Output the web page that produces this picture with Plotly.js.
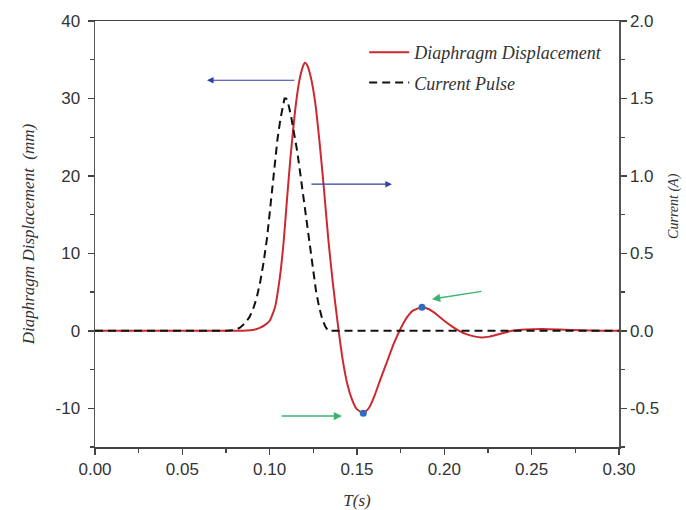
<!DOCTYPE html>
<html>
<head>
<meta charset="utf-8">
<script src="https://cdn.plot.ly/plotly-3.0.1.min.js"></script>
<style>html,body{margin:0;padding:0;background:#fff;}#chart{width:686px;height:510px;}</style>
</head>
<body>
<div id="chart"></div>
<script>
// Diaphragm displacement (mm) vs time (s)
var dispT = [0, 0.02, 0.04, 0.06, 0.075, 0.085, 0.090, 0.094, 0.097, 0.100, 0.103, 0.106, 0.108, 0.110, 0.112, 0.1145, 0.117, 0.119, 0.1202, 0.1215, 0.1235, 0.126, 0.1285, 0.131, 0.1335, 0.136, 0.1395, 0.142, 0.1445, 0.147, 0.1495, 0.1536, 0.157, 0.160, 0.1635, 0.1675, 0.171, 0.175, 0.1785, 0.182, 0.1872, 0.1915, 0.196, 0.2005, 0.2045, 0.2085, 0.2125, 0.217, 0.2214, 0.226, 0.231, 0.2355, 0.2385, 0.2465, 0.2565, 0.266, 0.278, 0.290, 0.300];
var dispY = [0, 0, 0, 0, 0, 0.02, 0.1, 0.35, 0.7, 1.3, 3.0, 7.2, 11.5, 17.2, 22.6, 28.3, 32.3, 34.1, 34.6, 34.3, 32.8, 29.6, 24.5, 18.5, 12.0, 6.5, 0.0, -4.0, -6.9, -8.8, -10.0, -10.65, -9.9, -8.4, -6.2, -3.8, -1.7, 0.3, 1.7, 2.6, 3.05, 2.75, 2.05, 1.2, 0.55, 0.0, -0.42, -0.72, -0.85, -0.75, -0.45, -0.18, 0.0, 0.18, 0.24, 0.17, 0.06, 0.0, 0.0];

// Current pulse (A) vs time (s)
var curT = [0, 0.04, 0.075, 0.080, 0.083, 0.086, 0.0885, 0.0905, 0.0925, 0.0945, 0.0965, 0.0985, 0.1005, 0.1025, 0.1045, 0.1062, 0.1075, 0.1085, 0.1095, 0.1110, 0.1125, 0.1142, 0.1159, 0.1177, 0.1195, 0.1213, 0.1231, 0.1248, 0.1265, 0.1282, 0.1300, 0.1318, 0.1335, 0.16, 0.20, 0.25, 0.300];
var curY = [0, 0, 0, 0.005, 0.02, 0.05, 0.09, 0.14, 0.21, 0.31, 0.44, 0.60, 0.82, 1.05, 1.24, 1.37, 1.45, 1.50, 1.50, 1.45, 1.37, 1.26, 1.15, 1.00, 0.85, 0.68, 0.52, 0.38, 0.26, 0.16, 0.08, 0.03, 0.0, 0, 0, 0, 0];

// Marked extrema of displacement
var markT = [0.1536, 0.1872];
var markY = [-10.65, 3.05];

// Tick labels
var yTickVals = [-10, 0, 10, 20, 30, 40];
var yTickText = ['-10', '0', '10', '20', '30', '40'];
var y2TickVals = [-0.5, 0, 0.5, 1.0, 1.5, 2.0];
var y2TickText = ['-0.5', '0.0', '0.5', '1.0', '1.5', '2.0'];

var seriesNames = ['Diaphragm Displacement', 'Current Pulse'];
var axisTitles = {x: 'T(s)', y: 'Diaphragm Displacement  (mm)', y2: 'Current (A)'};

var traces = [
  {x: dispT, y: dispY, type: 'scatter', mode: 'lines', name: '<i>' + seriesNames[0] + '</i>', legendgroup: 'a',
   line: {color: '#cc2a30', width: 2, shape: 'spline', smoothing: 0.5}, yaxis: 'y'},
  {x: curT, y: curY, type: 'scatter', mode: 'lines', name: '<i>' + seriesNames[1] + '</i>', legendgroup: 'b',
   line: {color: '#111111', width: 2, dash: '8px,5px', shape: 'linear'}, yaxis: 'y2'},
  {x: markT, y: markY, type: 'scatter', mode: 'markers', showlegend: false,
   marker: {color: '#2f6cc0', size: 7}, yaxis: 'y'}
];

var tickFont = {family: 'Liberation Sans, Arial, sans-serif', size: 17, color: '#333'};
var titleFont = {family: 'Liberation Serif, Times New Roman, serif', size: 17, color: '#333'};

var layout = {
  width: 686, height: 510,
  margin: {l: 95, r: 67, t: 21, b: 63},
  paper_bgcolor: '#fff', plot_bgcolor: '#fff',
  showlegend: true,
  legend: {x: 0.5137, y: 0.9695, xanchor: 'left', yanchor: 'top', bgcolor: 'rgba(0,0,0,0)',
           font: {family: 'Liberation Serif, Times New Roman, serif', size: 18, color: '#333'},
           traceorder: 'grouped', tracegroupgap: 4, itemwidth: 40},
  xaxis: {range: [0, 0.3], dtick: 0.05, tick0: 0, tickformat: '.2f', showgrid: false, zeroline: false,
          showline: true, linecolor: '#444', linewidth: 1.5, mirror: true,
          ticks: 'outside', ticklen: 6, tickwidth: 1.5, tickcolor: '#444',
          minor: {dtick: 0.025, ticks: 'outside', ticklen: 4, tickwidth: 1.2, tickcolor: '#444', showgrid: false},
          tickfont: tickFont,
          title: {text: '<i>' + axisTitles.x + '</i>', font: titleFont, standoff: 18}},
  yaxis: {range: [-15, 40], tickmode: 'array', tickvals: yTickVals, ticktext: yTickText,
          showgrid: false, zeroline: false,
          showline: true, linecolor: '#555', linewidth: 1.5,
          ticks: 'outside', ticklen: 6, tickwidth: 1.5, tickcolor: '#444', ticklabelstandoff: 4,
          minor: {dtick: 5, ticks: 'outside', ticklen: 4, tickwidth: 1.2, tickcolor: '#444', showgrid: false},
          tickfont: tickFont,
          title: {text: '<i>' + axisTitles.y + '</i>', font: titleFont, standoff: 16}},
  yaxis2: {range: [-0.75, 2.0], tickmode: 'array', tickvals: y2TickVals, ticktext: y2TickText,
           overlaying: 'y', side: 'right',
           showgrid: false, zeroline: false, showline: true, linecolor: '#555', linewidth: 1.5,
           ticks: 'outside', ticklen: 6, tickwidth: 1.5, tickcolor: '#444',
           minor: {dtick: 0.25, tick0: 0, ticks: 'outside', ticklen: 4, tickwidth: 1.2, tickcolor: '#444', showgrid: false},
           tickfont: tickFont},
  annotations: [
    {text: '<i>' + axisTitles.y2 + '</i>', xref: 'paper', yref: 'paper', x: 1.105, y: 0.566,
     xanchor: 'center', yanchor: 'middle', textangle: -90, showarrow: false,
     font: {family: 'Liberation Serif, Times New Roman, serif', size: 14, color: '#333'}},
    {x: 0.0641, y: 32.35, xref: 'x', yref: 'y', ax: 89, ay: 0, axref: 'pixel', ayref: 'pixel', text: '',
     showarrow: true, arrowhead: 2, arrowsize: 1.1, arrowwidth: 1.2, arrowcolor: '#3040a8'},
    {x: 0.170, y: 18.93, xref: 'x', yref: 'y', ax: -82, ay: 0, axref: 'pixel', ayref: 'pixel', text: '',
     showarrow: true, arrowhead: 2, arrowsize: 1.1, arrowwidth: 1.2, arrowcolor: '#3040a8'},
    {x: 0.1414, y: -11.0, xref: 'x', yref: 'y', ax: -62, ay: 0, axref: 'pixel', ayref: 'pixel', text: '',
     showarrow: true, arrowhead: 2, arrowsize: 1.1, arrowwidth: 1.5, arrowcolor: '#3cb371'},
    {x: 0.1929, y: 4.09, xref: 'x', yref: 'y', ax: 51, ay: -8, axref: 'pixel', ayref: 'pixel', text: '',
     showarrow: true, arrowhead: 2, arrowsize: 1.1, arrowwidth: 1.5, arrowcolor: '#3cb371'}
  ]
};

Plotly.newPlot('chart', traces, layout, {displayModeBar: false, staticPlot: true});
</script>
</body>
</html>
